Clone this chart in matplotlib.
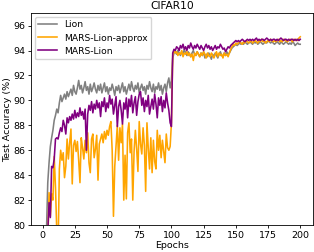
import numpy as np
import matplotlib
matplotlib.use("Agg")
import matplotlib.pyplot as plt

epochs = list(range(1, 201))

lion = [
    68.0, 75.5, 79.6, 83.4, 85.0, 86.3, 87.0, 87.6, 88.4, 88.8,
    89.3, 89.0, 89.8, 90.4, 89.9, 90.2, 90.5, 90.1, 90.7, 90.3,
    90.6, 90.9, 90.4, 91.2, 90.7, 90.5, 91.0, 91.6, 90.9, 91.2,
    90.6, 91.0, 91.5, 90.8, 91.1, 90.5, 91.3, 90.7, 91.0, 91.4,
    90.9, 90.6, 91.2, 90.8, 91.3, 90.6, 91.0, 91.4, 90.7, 91.1,
    90.5, 91.0, 90.8, 91.3, 90.9, 90.4, 91.1, 90.8, 91.2, 90.6,
    91.0, 91.4, 90.7, 91.1, 90.5, 90.9, 91.3, 90.8, 91.5, 91.0,
    90.7, 91.2, 90.9, 91.4, 90.6, 91.0, 91.3, 90.8, 91.1, 90.5,
    91.2, 90.9, 91.5, 91.0, 90.7, 91.3, 90.6, 91.1, 90.9, 91.4,
    90.8, 91.2, 90.5, 91.0, 91.3, 90.7, 91.4, 91.8, 91.0, 91.6,
    93.4, 93.8, 93.9, 93.7, 94.0, 93.8, 93.6, 93.9, 93.7, 94.1,
    93.8, 93.6, 93.9, 93.7, 93.5, 93.8, 94.0, 93.7, 93.6, 93.9,
    93.7, 93.5, 93.8, 93.6, 93.9, 93.4, 93.7, 93.5, 93.8, 93.6,
    93.3, 93.7, 93.5, 93.8, 93.6, 93.4, 93.7, 93.9, 93.6, 93.5,
    93.8, 93.6, 93.9, 93.7, 93.8, 94.0, 94.2, 94.3, 94.4, 94.5,
    94.4, 94.5, 94.6, 94.5, 94.6, 94.5, 94.7, 94.6, 94.5, 94.6,
    94.7, 94.6, 94.5, 94.7, 94.6, 94.7, 94.5, 94.6, 94.7, 94.6,
    94.5, 94.6, 94.7, 94.6, 94.8, 94.7, 94.6, 94.7, 94.6, 94.5,
    94.6, 94.7, 94.6, 94.5, 94.7, 94.6, 94.5, 94.6, 94.7, 94.6,
    94.5, 94.6, 94.5, 94.7, 94.6, 94.4, 94.5, 94.6, 94.5, 94.5,
]

mars_lion_approx = [
    62.0, 70.0, 75.0, 78.5, 82.6, 80.7, 82.5, 82.0, 85.5, 83.0,
    79.5, 78.0, 84.5, 86.0, 85.2, 85.8, 83.8, 84.7, 86.9, 85.3,
    86.6, 87.7, 83.3, 86.4, 86.8, 85.9, 86.7, 85.2, 83.4, 87.0,
    86.2, 85.3, 86.8, 85.8, 87.4, 85.0, 84.2, 86.9, 87.3, 85.4,
    86.1, 87.2, 83.6, 86.5, 86.9, 87.3, 86.6, 87.5, 86.9, 87.6,
    87.2, 87.9, 88.3, 86.0, 80.7, 84.7, 86.3, 88.0, 85.2, 87.8,
    86.6, 88.1, 82.0, 85.6, 82.1, 87.4, 88.2, 85.8, 86.9, 82.0,
    85.9, 87.6, 86.1, 84.3, 88.3, 86.5, 85.7, 87.8, 86.4, 82.7,
    88.2, 86.2, 84.5, 87.0, 84.2, 86.8, 85.1, 84.5, 87.6, 86.0,
    87.2, 85.4, 86.8, 85.9, 85.0, 87.3, 86.2, 86.0, 86.3, 88.2,
    93.6, 94.0, 93.8, 93.9, 93.6, 93.8, 93.7, 94.0, 93.5, 93.8,
    93.7, 93.9, 93.6, 93.8, 93.5, 93.7, 93.2, 93.8, 93.6, 93.9,
    93.7, 93.5, 93.8, 93.6, 93.9, 93.7, 93.4, 93.8, 93.6, 93.5,
    93.8, 93.6, 93.4, 93.7, 93.9, 93.5, 93.8, 93.6, 93.7, 93.4,
    93.8, 93.6, 93.7, 93.5, 93.8, 94.1, 94.3, 94.5, 94.4, 94.6,
    94.5, 94.6, 94.7, 94.6, 94.5, 94.7, 94.6, 94.8, 94.7, 94.6,
    94.7, 94.8, 94.6, 94.7, 94.8, 94.7, 94.6, 94.8, 94.7, 94.9,
    94.7, 94.8, 94.6, 94.7, 94.8, 94.7, 94.9, 94.8, 94.7, 94.8,
    94.7, 94.8, 94.9, 94.7, 94.8, 94.7, 94.9, 94.8, 94.8, 94.7,
    94.8, 94.9, 94.8, 94.7, 94.9, 94.8, 94.9, 94.8, 95.0, 95.1,
]

mars_lion = [
    66.0, 72.0, 77.0, 79.5, 81.8, 80.6, 84.7, 84.6, 85.3, 86.9,
    87.0, 86.9, 87.4, 87.8, 87.5, 88.4, 88.0, 87.3, 88.6, 88.2,
    88.7, 88.4, 88.9, 88.5, 89.2, 88.6, 89.0, 88.7, 89.4, 88.8,
    89.1, 88.5, 89.3, 86.0, 88.9, 89.6, 89.2, 89.9, 89.0, 89.7,
    89.3, 90.0, 89.4, 89.8, 88.7, 89.9, 89.5, 90.2, 89.1, 89.8,
    89.4, 90.4, 89.7, 90.1, 88.9, 89.6, 90.3, 87.9, 89.5, 90.0,
    89.2, 88.1, 89.8, 89.3, 90.2, 88.6, 90.1, 89.5, 90.4, 89.0,
    89.8, 90.3, 88.8, 89.9, 90.5, 90.7, 89.6, 90.2, 89.1, 90.0,
    89.5, 90.4, 88.9, 89.5, 90.1, 89.3, 90.5, 89.7, 88.6, 90.2,
    89.6, 90.3, 89.1, 90.0, 89.4, 90.6, 89.8, 89.2, 88.2, 87.9,
    93.8, 94.1, 94.0, 94.3, 94.2, 94.0, 94.4, 94.2, 94.5, 94.1,
    94.3, 94.0, 94.4, 94.2, 94.6, 94.3, 94.1, 94.4, 94.2, 94.5,
    94.3, 94.1, 94.4, 94.2, 94.0, 94.3, 94.5, 94.2, 94.4, 94.1,
    94.3, 94.0, 94.2, 94.4, 94.1, 94.3, 94.2, 94.5, 94.3, 94.1,
    94.2, 93.9, 94.1, 94.3, 94.2, 94.4, 94.5, 94.6, 94.7, 94.8,
    94.7, 94.8, 94.7, 94.8, 94.9, 94.8, 94.7, 94.8, 94.9, 94.8,
    94.9, 94.8, 94.9, 94.8, 94.9, 95.0, 94.8, 94.9, 94.8, 94.9,
    94.9, 94.8, 94.9, 95.0, 94.9, 94.8, 94.9, 94.8, 94.9, 94.9,
    94.8, 94.9, 94.8, 94.9, 95.0, 94.9, 94.8, 94.9, 94.9, 94.8,
    94.9, 94.8, 94.9, 94.9, 94.8, 94.9, 94.8, 94.9, 94.8, 94.9,
]

series_names = ["Lion", "MARS-Lion-approx", "MARS-Lion"]
series_colors = ["gray", "orange", "purple"]

fig = plt.figure(figsize=(3.14, 2.52), dpi=100)
ax = fig.add_axes([0.099, 0.107, 0.898, 0.841])
for name, vals, col in zip(series_names, [lion, mars_lion_approx, mars_lion], series_colors):
    ax.plot(epochs, vals, color=col, lw=1.15, label=name)

ax.set_ylim(80, 97)
ax.set_xticks([0, 25, 50, 75, 100, 125, 150, 175, 200])
ax.set_yticks([80, 82, 84, 86, 88, 90, 92, 94, 96])
ax.tick_params(labelsize=6.8, width=0.6, length=2.5, pad=1.5)
for s in ax.spines.values():
    s.set_linewidth(0.6)
ax.set_xlabel("Epochs", fontsize=6.8, labelpad=1)
ax.set_ylabel("Test Accuracy (%)", fontsize=6.8, labelpad=1)
ax.set_title("CIFAR10", fontsize=7.7, pad=3)
ax.legend(loc="upper left", fontsize=6.6, handlelength=2.0, borderpad=0.4,
          labelspacing=0.45, borderaxespad=0.4)
fig.savefig("out.png", dpi=100)
